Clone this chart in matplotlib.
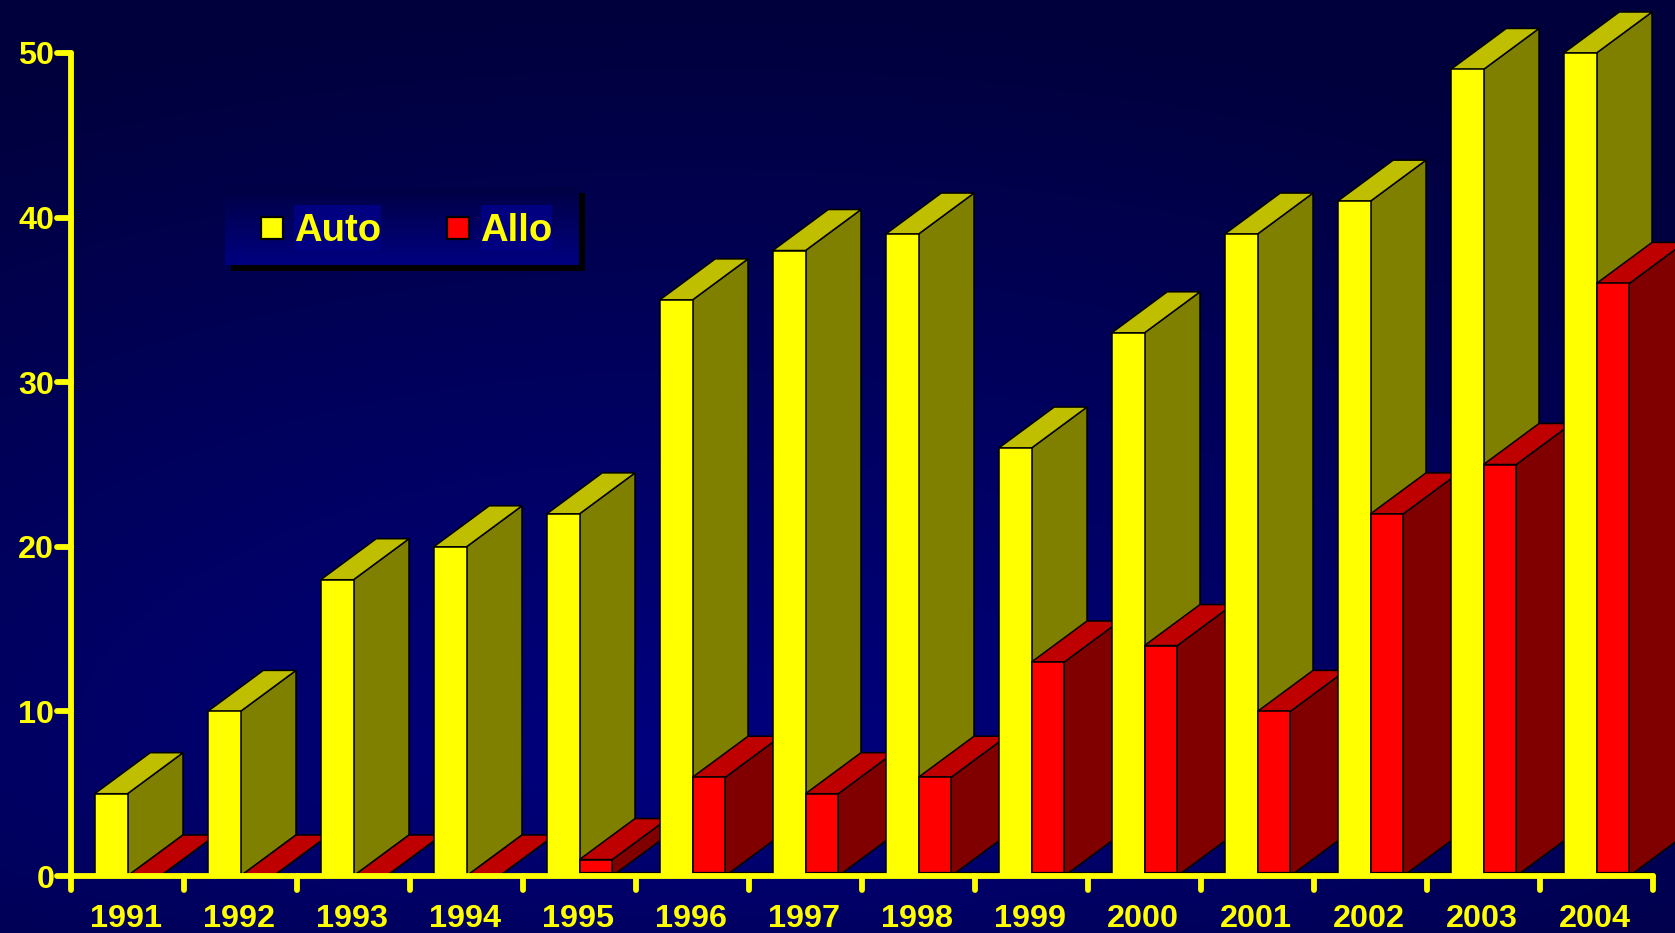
import matplotlib
matplotlib.use('Agg')
import matplotlib.pyplot as plt
import numpy as np
from matplotlib.markers import MarkerStyle, TICKLEFT, TICKDOWN
from matplotlib.patches import Polygon, Rectangle

plt.rcParams['font.family'] = ['Liberation Sans', 'DejaVu Sans']
plt.rcParams['font.weight'] = 'bold'

W, H = 1675, 933

years = [1991, 1992, 1993, 1994, 1995, 1996, 1997,
         1998, 1999, 2000, 2001, 2002, 2003, 2004]
auto = [5, 10, 18, 20, 22, 35, 38, 39, 26, 33, 39, 41, 49, 50]
allo = [0, 0, 0, 0, 1, 6, 5, 6, 13, 14, 10, 22, 25, 36]
y_ticks = [0, 10, 20, 30, 40, 50]

AUTO_COLS = ('#ffff00', '#808000', '#bfbf00')  # front, side, top
ALLO_COLS = ('#ff0000', '#800000', '#bf0000')

# plot area in pixels
X0, X1 = 71, 1653
Y0, Y1 = 876, 53
BAR_OFFS = 0.21
BAR_W = 0.29
DEPTH_X = 55.5 / ((X1 - X0) / 14)
DEPTH_Y = 41 / ((Y0 - Y1) / 50)
BASE = 0.25  # thin black line just above the axis line

YELLOW = '#ffff00'

fig = plt.figure(figsize=(W / 100, H / 100), dpi=100)

# background and legend live in a pixel-coordinate axes
bg = fig.add_axes([0, 0, 1, 1], zorder=0)
bg.axis('off')

xx, yy = np.meshgrid(np.arange(0, W, 4), np.arange(0, H, 4))
ry = np.where(yy < 760, 760, 400)
d = np.clip(np.hypot((xx - 700) / 1600, (yy - 760) / ry), 0, 1)
blue = 128 - 68 * d
rgb = np.dstack((np.zeros_like(blue), np.zeros_like(blue), blue / 255))
bg.imshow(rgb, extent=(0, W, H, 0), aspect='auto', interpolation='bilinear', zorder=0)

# legend box
bg.add_patch(Rectangle((231, 193), 354, 78, fc='black', ec='none', zorder=1))
box = np.linspace(0.27, 0.50, 40).reshape(-1, 1, 1) * np.array([0, 0, 1.0])
bg.imshow(box, extent=(225, 579, 265, 187), aspect='auto', zorder=2)
bg.set_xlim(0, W)
bg.set_ylim(H, 0)
bg.add_patch(Rectangle((294, 205), 87, 46, fc='#000080', ec='none', zorder=3))
bg.add_patch(Rectangle((481, 205), 71, 46, fc='#000080', ec='none', zorder=3))
bg.add_patch(Rectangle((261, 217), 22, 22, fc=AUTO_COLS[0], ec='black', lw=1.6, zorder=3))
bg.add_patch(Rectangle((447, 217), 22, 22, fc=ALLO_COLS[0], ec='black', lw=1.6, zorder=3))
bg.text(294, 231, 'Auto', color=YELLOW, fontsize=27.5, va='center', ha='left', zorder=4)
bg.text(480, 231, 'Allo', color=YELLOW, fontsize=27.5, va='center', ha='left', zorder=4)

ax = fig.add_axes([X0 / W, 1 - Y0 / H, (X1 - X0) / W, (Y0 - Y1) / H], zorder=1)
ax.patch.set_alpha(0)
ax.set_xlim(0, 14)
ax.set_ylim(0, 50)


def draw_bar(x, w, top, cols, z):
    # front face through bar(), side and top as parallelograms behind it
    side = [(x + w, 0), (x + w + DEPTH_X, DEPTH_Y),
            (x + w + DEPTH_X, top + DEPTH_Y), (x + w, top)]
    cap = [(x, top), (x + DEPTH_X, top + DEPTH_Y),
           (x + w + DEPTH_X, top + DEPTH_Y), (x + w, top)]
    ax.add_patch(Polygon(side, fc=cols[1], ec='black', lw=1.1, zorder=z,
                         clip_on=False, joinstyle='miter'))
    ax.add_patch(Polygon(cap, fc=cols[2], ec='black', lw=1.1, zorder=z,
                         clip_on=False, joinstyle='miter'))
    ax.bar(x, top, w, align='edge', color=cols[0],
           edgecolor='black', linewidth=1.1, zorder=z, clip_on=False)


for i in range(len(years)):
    left = i + BAR_OFFS
    draw_bar(left, BAR_W, auto[i], AUTO_COLS, 2 + 2 * i)
    draw_bar(left + BAR_W, BAR_W, allo[i], ALLO_COLS, 3 + 2 * i)
    if allo[i] > 0:
        ax.plot([left + BAR_W, min(i + 1 + BAR_OFFS, 14)], [BASE, BASE],
                color='black', lw=0.9, zorder=3 + 2 * i)

for name in ('top', 'right'):
    ax.spines[name].set_visible(False)
for name in ('left', 'bottom'):
    ax.spines[name].set_color(YELLOW)
    ax.spines[name].set_linewidth(4.2)
    ax.spines[name].set_zorder(50)
    ax.spines[name].set_capstyle('round')

ax.set_yticks(y_ticks)
ax.set_xticks(np.arange(15))
ax.set_xticklabels([])
ax.set_xticks(np.arange(14) + 0.485, labels=years, minor=True)
ax.tick_params(axis='y', length=10, width=4.2, color=YELLOW, labelcolor=YELLOW,
               labelsize=23.3, pad=2)
ax.tick_params(axis='x', which='major', length=10, width=4.2, color=YELLOW)
ax.tick_params(axis='x', which='minor', length=0, labelcolor=YELLOW,
               labelsize=23.3, pad=20)
for t in ax.yaxis.get_major_ticks():
    t.tick1line.set_marker(MarkerStyle(TICKLEFT, capstyle='round'))
    t.tick1line.set_zorder(50)
for t in ax.xaxis.get_major_ticks():
    t.tick1line.set_marker(MarkerStyle(TICKDOWN, capstyle='round'))
    t.tick1line.set_zorder(50)

fig.savefig('out.png', dpi=100)
